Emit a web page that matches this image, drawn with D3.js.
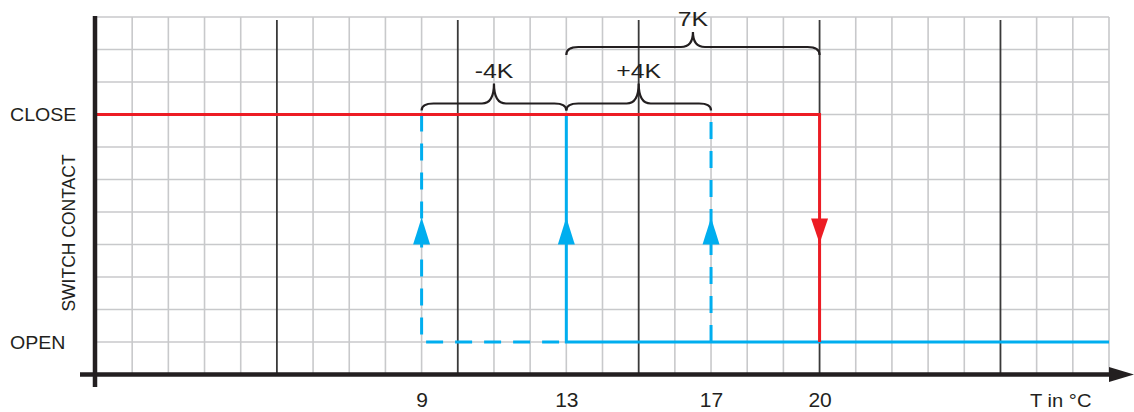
<!DOCTYPE html>
<html>
<head>
<meta charset="utf-8">
<script src="https://cdn.jsdelivr.net/npm/d3@7"></script>
<style>
  body { margin: 0; background: #fff; }
  text { font-family: "Liberation Sans", Arial, sans-serif; fill: #231f20; }
</style>
</head>
<body>
<div id="graph"></div>
<script>
// data
let xTicks = [9, 13, 17, 20];
let xLabel = "T in °C";
let yLabel = "SWITCH CONTACT";
let states = ["OPEN", "CLOSE"];
let stateLevel = { OPEN: 1, CLOSE: 8 };   // grid rows
let tMax = 28;
let rows = 11;

// red switch line (switch off at 20)
let redLine = [[0, "CLOSE"], [20, "CLOSE"], [20, "OPEN"]];
// blue switch line, solid at 13, dashed at 9 / 17
let blueSolid = [[13, "CLOSE"], [13, "OPEN"], [tMax, "OPEN"]];
let blueDashed = [
  [[9, "CLOSE"], [9, "OPEN"], [13, "OPEN"]],
  [[17, "OPEN"], [17, "CLOSE"]]
];
let arrowsUp = [9, 13, 17];
let arrowsDown = [20];

let braces = [
  { from: 9, to: 13, label: "-4K", top: false },
  { from: 13, to: 17, label: "+4K", top: false },
  { from: 13, to: 20, label: "7K", top: true }
];

let width = 1134, height = 412;

let svg = d3.select("#graph")
  .append("svg")
  .attr("width", width)
  .attr("height", height);

let x = d3.scaleLinear().domain([0, tMax]).range([96, 1109]);
let y = d3.scaleLinear().domain([0, rows]).range([374.5, 17]);
let yState = s => y(stateLevel[s]);

// grid
let grid = svg.append("g");
grid.selectAll(".hline")
  .data(d3.range(1, rows + 1))
  .enter().append("line")
  .attr("x1", x(0)).attr("x2", x(tMax))
  .attr("y1", d => y(d)).attr("y2", d => y(d))
  .attr("stroke", "#c8c9cb").attr("stroke-width", 1.6);
grid.selectAll(".vline")
  .data(d3.range(1, tMax + 1).filter(d => d % 5 != 0))
  .enter().append("line")
  .attr("x1", d => x(d)).attr("x2", d => x(d))
  .attr("y1", y(rows)).attr("y2", y(0))
  .attr("stroke", "#c8c9cb").attr("stroke-width", 1.6);
grid.selectAll(".vthick")
  .data(d3.range(5, tMax + 1, 5))
  .enter().append("line")
  .attr("x1", d => x(d)).attr("x2", d => x(d))
  .attr("y1", y(rows) + 3).attr("y2", y(0))
  .attr("stroke", "#3a3a3a").attr("stroke-width", 1.8);

let line = d3.line().x(d => x(d[0])).y(d => yState(d[1]));

let blue = "#00aeef", red = "#ed1c24";

// blue lines
svg.append("path")
  .attr("d", line(blueSolid))
  .attr("fill", "none").attr("stroke", blue).attr("stroke-width", 3);
svg.selectAll(".dash")
  .data(blueDashed)
  .enter().append("path")
  .attr("d", d => line(d))
  .attr("fill", "none").attr("stroke", blue).attr("stroke-width", 3)
  .attr("stroke-dasharray", "17,12");

// red line
svg.append("path")
  .attr("d", line(redLine))
  .attr("fill", "none").attr("stroke", red).attr("stroke-width", 3);

// arrows
let arrowY = y(4.4);
svg.selectAll(".up")
  .data(arrowsUp)
  .enter().append("path")
  .attr("d", d => `M${x(d)},${arrowY - 14} L${x(d) + 8.5},${arrowY + 13} L${x(d) - 8.5},${arrowY + 13} Z`)
  .attr("fill", blue);
svg.selectAll(".down")
  .data(arrowsDown)
  .enter().append("path")
  .attr("d", d => `M${x(d)},${arrowY + 12} L${x(d) + 8.5},${arrowY - 13} L${x(d) - 8.5},${arrowY - 13} Z`)
  .attr("fill", red);

// braces
function bracePath(x1, x2, yb, yl, yc) {
  let xm = (x1 + x2) / 2, r = 12;
  return `M${x1},${yb} Q${x1},${yl} ${x1 + r},${yl} L${xm - r},${yl} Q${xm},${yl} ${xm},${yc}` +
         ` Q${xm},${yl} ${xm + r},${yl} L${x2 - r},${yl} Q${x2},${yl} ${x2},${yb}`;
}
let yClose = yState("CLOSE");
braces.forEach(function(b) {
  let yb = b.top ? 55 : yClose - 4;
  let yl = b.top ? 47 : yClose - 11;
  let yc = b.top ? 32 : yClose - 31;
  svg.append("path")
    .attr("d", bracePath(x(b.from), x(b.to), yb, yl, yc))
    .attr("fill", "none").attr("stroke", "#231f20").attr("stroke-width", 2.2);
  svg.append("text")
    .attr("transform", `translate(${x((b.from + b.to) / 2)},${yc - 6}) scale(1.18,1)`)
    .style("text-anchor", "middle")
    .style("font-size", "21px")
    .text(b.label);
});

// axes
svg.append("line")
  .attr("x1", 80).attr("x2", x(tMax))
  .attr("y1", y(0)).attr("y2", y(0))
  .attr("stroke", "#231f20").attr("stroke-width", 4.5);
svg.append("path")
  .attr("d", `M${x(tMax)},${y(0) - 7.5} L${x(tMax) + 25},${y(0)} L${x(tMax)},${y(0) + 7.5} Z`)
  .attr("fill", "#231f20");
svg.append("line")
  .attr("x1", x(0) - 1).attr("x2", x(0) - 1)
  .attr("y1", 16).attr("y2", 387)
  .attr("stroke", "#231f20").attr("stroke-width", 4.5);

// x tick labels through an axis
let xAxis = svg.append("g")
  .attr("transform", `translate(0,${y(0)})`)
  .call(d3.axisBottom(x).tickValues(xTicks).tickSize(0).tickPadding(18));
xAxis.select(".domain").remove();
xAxis.selectAll("text")
  .style("font-size", "21px")
  .style("font-family", "'Liberation Sans', Arial, sans-serif")
  .attr("fill", "#231f20");

svg.append("text")
  .attr("transform", `translate(1030,407) scale(1.12,1)`)
  .style("font-size", "18px")
  .text(xLabel);

// state labels
svg.selectAll(".state")
  .data(states)
  .enter().append("text")
  .attr("transform", d => `translate(10,${yState(d) + 6.5}) scale(1.12,1)`)
  .style("font-size", "17.5px")
  .text(d => d);

svg.append("text")
  .attr("transform", `translate(75,233) rotate(-90)`)
  .style("text-anchor", "middle")
  .style("font-size", "17.5px")
  .text(yLabel);
</script>
</body>
</html>
